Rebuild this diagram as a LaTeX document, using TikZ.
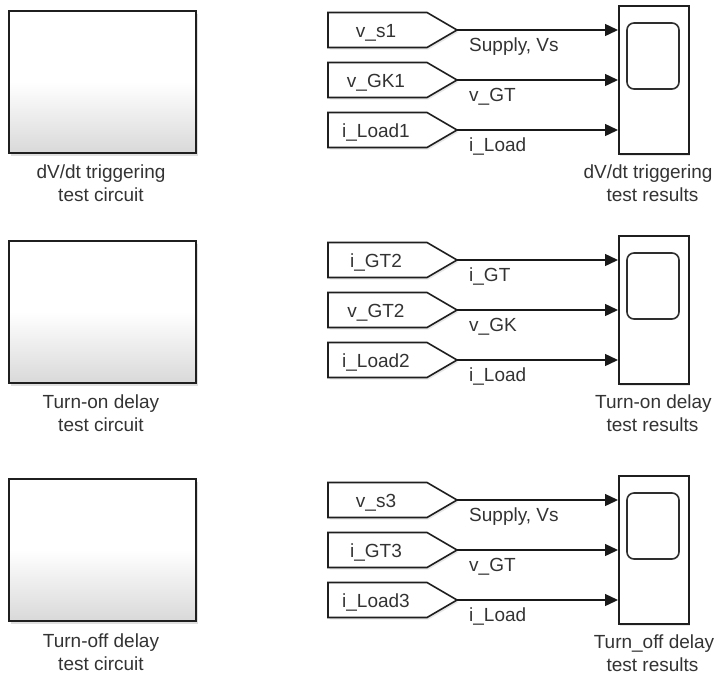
\documentclass[tikz,border=0pt]{standalone}
\usepackage{fontspec}
\setmainfont{Liberation Sans}
\usetikzlibrary{arrows.meta,shadows}
\tikzset{
  lbl/.style={font=\fontsize{19}{23}\selectfont, text=black!80, inner sep=0pt, anchor=base},
  blk/.style={draw=black!88, line width=2pt, minimum width=187pt, minimum height=142pt, inner sep=0pt,
    top color=white, bottom color=black!15, middle color=white,
    drop shadow={shadow xshift=2pt, shadow yshift=-3pt, opacity=0.25}},
  scopebox/.style={draw=black!88, line width=1.6pt, fill=white, minimum width=70pt, minimum height=148pt, inner sep=0pt,
    drop shadow={shadow xshift=1.5pt, shadow yshift=-2pt, opacity=0.2}},
  screen/.style={draw=black!82, line width=1.6pt, rounded corners=7pt, minimum width=52pt, minimum height=66pt, inner sep=0pt},
  sig/.style={line width=1.4pt, draw=black!90, -{Triangle[length=13pt,width=12pt]}},
  tagframe/.style={draw=black!88, line width=1.6pt, fill=white,
    drop shadow={shadow xshift=1.5pt, shadow yshift=-2pt, opacity=0.2}},
  pics/tag/.style={code={
     \draw[tagframe] (-49.5,-17.5) -- (49.5,-17.5) -- (79.5,0) -- (49.5,17.5) -- (-49.5,17.5) -- cycle;
     \node[lbl] (-txt) at (-1.5,7.5) {#1};
     \coordinate (-tip) at (79.5,0);
  }},
}
\begin{document}
\begin{tikzpicture}[x=1pt,y=-1pt]
\useasboundingbox (0,0) rectangle (722,675);

% ---------- group 1 ----------
\begin{scope}[shift={(0,0)}]
\node[blk] (B1) at (102.5,82) {};
\node[lbl] (B1a) at (101,178) {dV/dt triggering};
\node[lbl] (B1b) at (101,201) {test circuit};
\pic (T1a) at (377.5,30) {tag={v\_s1}};
\pic (T1b) at (377.5,80) {tag={v\_GK1}};
\pic (T1c) at (377.5,130) {tag={i\_Load1}};
\node[scopebox] (S1) at (653.8,80) {};
\node[screen] (S1s) at (653,56) {};
\draw[sig] (T1a-tip) -- (T1a-tip -| S1.west);
\draw[sig] (T1b-tip) -- (T1b-tip -| S1.west);
\draw[sig] (T1c-tip) -- (T1c-tip -| S1.west);
\node[lbl, anchor=base west] (L1a) at (469,51) {Supply, Vs};
\node[lbl, anchor=base west] (L1b) at (469,101) {v\_GT};
\node[lbl, anchor=base west] (L1c) at (469,151) {i\_Load};
\node[lbl] (S1a) at (648,178) {dV/dt triggering};
\node[lbl] (S1b) at (652.5,201) {test results};
\end{scope}

% ---------- group 2 ----------
\begin{scope}[shift={(0,230)}]
\node[blk] (B2) at (102.5,82) {};
\node[lbl] (B2a) at (101,178) {Turn-on delay};
\node[lbl] (B2b) at (101,201) {test circuit};
\pic (T2a) at (377.5,30) {tag={i\_GT2}};
\pic (T2b) at (377.5,80) {tag={v\_GT2}};
\pic (T2c) at (377.5,130) {tag={i\_Load2}};
\node[scopebox] (S2) at (653.8,80) {};
\node[screen] (S2s) at (653,56) {};
\draw[sig] (T2a-tip) -- (T2a-tip -| S2.west);
\draw[sig] (T2b-tip) -- (T2b-tip -| S2.west);
\draw[sig] (T2c-tip) -- (T2c-tip -| S2.west);
\node[lbl, anchor=base west] (L2a) at (469,51) {i\_GT};
\node[lbl, anchor=base west] (L2b) at (469,101) {v\_GK};
\node[lbl, anchor=base west] (L2c) at (469,151) {i\_Load};
\node[lbl] (S2a) at (653.5,178) {Turn-on delay};
\node[lbl] (S2b) at (652.5,201) {test results};
\end{scope}

% ---------- group 3 ----------
\begin{scope}[shift={(0,470)}]
\node[blk] (B3) at (102.5,80) {};
\node[lbl] (B3a) at (101,177) {Turn-off delay};
\node[lbl] (B3b) at (101,200) {test circuit};
\pic (T3a) at (377.5,30) {tag={v\_s3}};
\pic (T3b) at (377.5,80) {tag={i\_GT3}};
\pic (T3c) at (377.5,130) {tag={i\_Load3}};
\node[scopebox] (S3) at (653.8,80) {};
\node[screen] (S3s) at (653,56) {};
\draw[sig] (T3a-tip) -- (T3a-tip -| S3.west);
\draw[sig] (T3b-tip) -- (T3b-tip -| S3.west);
\draw[sig] (T3c-tip) -- (T3c-tip -| S3.west);
\node[lbl, anchor=base west] (L3a) at (469,51) {Supply, Vs};
\node[lbl, anchor=base west] (L3b) at (469,101) {v\_GT};
\node[lbl, anchor=base west] (L3c) at (469,151) {i\_Load};
\node[lbl] (S3a) at (654,178) {Turn\_off delay};
\node[lbl] (S3b) at (652.5,201) {test results};
\end{scope}
\end{tikzpicture}
\end{document}
